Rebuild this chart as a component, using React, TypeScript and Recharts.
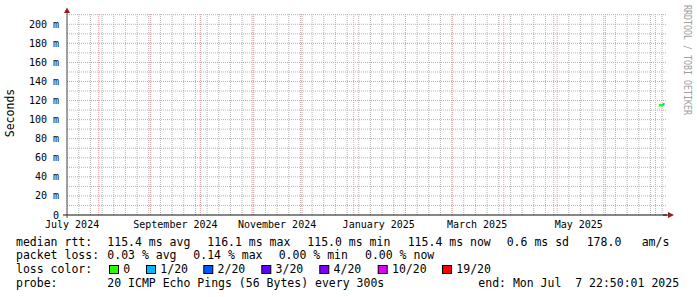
import React from "react";
import {
  ComposedChart,
  Line,
  XAxis,
  YAxis,
  ReferenceLine,
  ReferenceDot,
} from "recharts";

const DAY = 86400000;
const END = Date.parse("2025-07-07T22:50:01Z");
const START = END - 360 * DAY;
const Y_MAX = 211.8;

// median rtt samples (ms) and lost pings out of 20
const sampleTimes = [
  "2025-07-03T00:00Z",
  "2025-07-03T12:00Z",
  "2025-07-04T00:00Z",
  "2025-07-04T12:00Z",
  "2025-07-05T00:00Z",
  "2025-07-05T12:00Z",
  "2025-07-06T00:00Z",
  "2025-07-06T12:00Z",
];
const medianMs = [115.1, 115.0, 115.3, 115.2, 115.0, 115.4, 116.1, 115.9];
const lostPings = [0, 0, 0, 0, 0, 0, 1, 1];

const yTicks = [0, 20, 40, 60, 80, 100, 120, 140, 160, 180, 200];
const yMinor = [10, 30, 50, 70, 90, 110, 130, 150, 170, 190, 210];

const monthLabels = ["July 2024", "September 2024", "November 2024", "January 2025", "March 2025", "May 2025"];
const monthLabelDates = ["2024-07-16", "2024-09-16", "2024-11-16", "2025-01-16", "2025-03-16", "2025-05-16"];
const monthStarts = [
  "2024-08-01", "2024-09-01", "2024-10-01", "2024-11-01", "2024-12-01", "2025-01-01",
  "2025-02-01", "2025-03-01", "2025-04-01", "2025-05-01", "2025-06-01", "2025-07-01",
];
const FIRST_WEEK = "2024-07-13";

const lossColors = ["#26ff00", "#00b8ff", "#0059ff", "#5e00ff", "#7e00ff", "#dd00ff", "#ff0000"];
const lossNames = ["0", "1/20", "2/20", "3/20", "4/20", "10/20", "19/20"];

const labelTicks = monthLabelDates.map((d) => Date.parse(d + "T00:00Z"));
const labelMap: Record<number, string> = {};
labelTicks.forEach((t, i) => (labelMap[t] = monthLabels[i]));
const monthLines = monthStarts.map((d) => Date.parse(d + "T00:00Z"));
const weekLines: number[] = [];
for (let t = Date.parse(FIRST_WEEK + "T00:00Z"); t < END; t += 7 * DAY) weekLines.push(t);

const data = sampleTimes.map((s, i) => ({
  t: Date.parse(s),
  ok: lostPings[i] === 0 || lostPings[i + 1] === 0 ? medianMs[i] : null,
  loss1: lostPings[i] === 1 || lostPings[i + 1] === 1 ? medianMs[i] : null,
}));

const MONO = "'DejaVu Sans Mono', monospace";
const GRID = "#b4b4b4";
const MGRID = "#e49c9c";
const ARROW = "#9b1c1c";

const RightArrow = (p: any) => (
  <g>
    <line x1={p.cx - 4} y1={p.cy} x2={p.cx + 2} y2={p.cy} stroke="#111" />
    <polygon points={`${p.cx + 1},${p.cy - 3} ${p.cx + 7},${p.cy} ${p.cx + 1},${p.cy + 3}`} fill={ARROW} />
  </g>
);

const TopArrow = (p: any) => (
  <polygon points={`${p.cx - 3},${p.cy} ${p.cx},${p.cy - 5.5} ${p.cx + 3},${p.cy}`} fill={ARROW} />
);

const Corner = (p: any) => (
  <g>
    <line x1={p.cx - 4} y1={p.cy} x2={p.cx} y2={p.cy} stroke="#111" />
    <line x1={p.cx} y1={p.cy} x2={p.cx} y2={p.cy + 3} stroke="#555" />
  </g>
);

const legendX = 16;
const valueX = 107.3;
const rows = [245.5, 259.2, 272.9, 286.6];
const rttParts: [number, string][] = [
  [107.3, "115.4 ms avg"],
  [207.3, "116.1 ms max"],
  [307.3, "115.0 ms min"],
  [407.7, "115.4 ms now"],
  [506.7, "0.6 ms sd"],
  [586.7, "178.0"],
  [641.7, "am/s"],
];
const lossParts: [number, string][] = [
  [107.3, "0.03 % avg"],
  [193.3, "0.14 % max"],
  [278.7, "0.00 % min"],
  [365, "0.00 % now"],
];
const swatchX = [109, 146, 203.3, 261.3, 319.3, 377.7, 442];

export default function App() {
  return (
    <div style={{ position: "absolute", left: 0, top: 0, width: 697, height: 297, background: "#fff" }}>
      <ComposedChart width={697} height={297} data={data} margin={{ top: 13, right: 30, left: 0, bottom: 0 }}>
        <XAxis
          dataKey="t"
          type="number"
          domain={[START, END]}
          allowDataOverflow
          ticks={labelTicks}
          interval={0}
          height={82}
          tickSize={4}
          tickLine={false}
          axisLine={false}
          tickFormatter={(v: number) => labelMap[v] || ""}
          tick={{ fontSize: 10, fontFamily: MONO, fill: "#000" }}
        />
        <YAxis
          type="number"
          domain={[0, Y_MAX]}
          allowDataOverflow
          ticks={yTicks}
          interval={0}
          width={67}
          tickLine={false}
          axisLine={false}
          tickFormatter={(v: number) => (v === 0 ? "0" : `${v} m`)}
          tick={{ fontSize: 10, fontFamily: MONO, fill: "#000" }}
        />
        {yMinor.map((v) => (
          <ReferenceLine key={"ym" + v} y={v} stroke={GRID} strokeDasharray="1 1" />
        ))}
        {weekLines.map((t, i) => (
          <ReferenceLine key={"w" + i} x={t} stroke={GRID} strokeDasharray="1 1" />
        ))}
        {yTicks.filter((v) => v > 0).map((v) => (
          <ReferenceLine key={"yM" + v} y={v} stroke={MGRID} strokeDasharray="1 1" />
        ))}
        {monthLines.map((t) => (
          <ReferenceLine key={"m" + t} x={t} stroke={MGRID} strokeDasharray="1 1" />
        ))}
        <ReferenceLine x={START} stroke="#555" />
        <ReferenceLine y={0} stroke="#111" />
        <ReferenceDot x={START} y={0} r={0} ifOverflow="visible" shape={Corner} />
        <ReferenceDot x={END} y={0} r={0} ifOverflow="visible" shape={RightArrow} />
        <ReferenceDot x={START} y={Y_MAX} r={0} ifOverflow="visible" shape={TopArrow} />
        <Line dataKey="ok" stroke={lossColors[0]} strokeWidth={2.5} dot={false} isAnimationActive={false} />
        <Line dataKey="loss1" stroke={lossColors[1]} strokeWidth={2.5} dot={false} isAnimationActive={false} />
      </ComposedChart>
      <svg
        width={697}
        height={297}
        style={{ position: "absolute", left: 0, top: 0, pointerEvents: "none" }}
        fontFamily={MONO}
      >
        <text
          transform="translate(14,113) rotate(-90)"
          textAnchor="middle"
          fontSize={11.5}
          fill="#000"
        >
          Seconds
        </text>
        <text
          transform="translate(684,5) rotate(90)"
          fontSize={10}
          fill="#a0a0a0"
          textLength={110}
          lengthAdjust="spacingAndGlyphs"
        >
          RRDTOOL / TOBI OETIKER
        </text>
        <g fontSize={11.5} fill="#000">
          <text x={legendX} y={rows[0]}>median rtt:</text>
          {rttParts.map(([x, s]) => (
            <text key={s} x={x} y={rows[0]}>{s}</text>
          ))}
          <text x={legendX} y={rows[1]}>packet loss:</text>
          {lossParts.map(([x, s]) => (
            <text key={s + x} x={x} y={rows[1]}>{s}</text>
          ))}
          <text x={legendX} y={rows[2]}>loss color:</text>
          {lossNames.map((n, i) => (
            <g key={n}>
              <rect x={swatchX[i] + 0.5} y={265.5} width={9} height={8} fill={lossColors[i]} stroke="#000" />
              <text x={swatchX[i] + 14.3} y={rows[2]}>{n}</text>
            </g>
          ))}
          <text x={legendX} y={rows[3]}>probe:</text>
          <text x={valueX} y={rows[3]}>20 ICMP Echo Pings (56 Bytes) every 300s</text>
          <text x={478.3} y={rows[3]}>{"end: Mon Jul \u00a07 22:50:01 2025"}</text>
        </g>
      </svg>
    </div>
  );
}
